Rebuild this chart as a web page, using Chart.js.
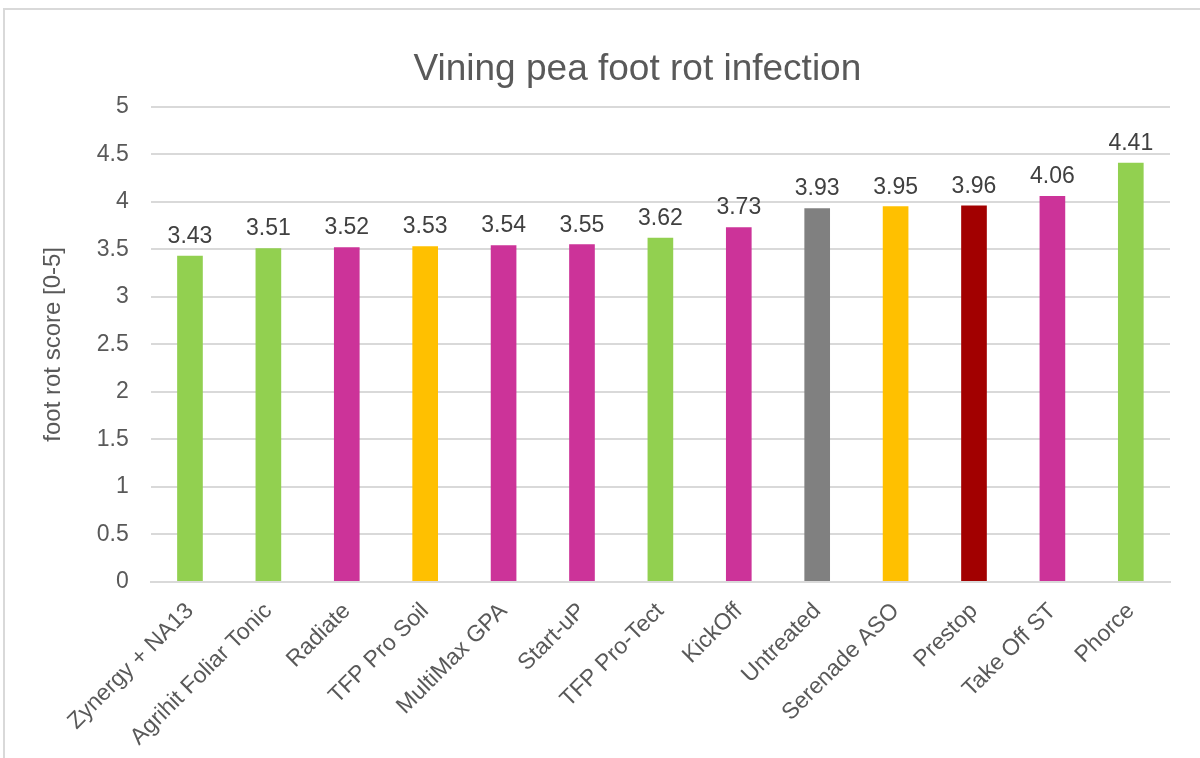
<!DOCTYPE html>
<html>
<head>
<meta charset="utf-8">
<script src="https://cdn.jsdelivr.net/npm/chart.js@4.4.1/dist/chart.umd.min.js"></script>
<style>
    html, body { margin: 0; padding: 0; background: #fff; overflow: hidden; }
    #wrap { position: relative; width: 1200px; height: 758px; }
    #frame { position: absolute; left: 3px; top: 8px; width: 1230px; height: 800px; border: 2px solid #d9d9d9; box-sizing: border-box; }
    canvas { position: absolute; left: 0; top: 0; }
</style>
</head>
<body>
<div id="wrap">
    <div id="frame"></div>
    <canvas id="chart" width="1200" height="758"></canvas>
</div>
<script>
// foot rot score per treatment, sorted low → high
const treatments = ['Zynergy + NA13', 'Agrihit Foliar Tonic', 'Radiate', 'TFP Pro Soil', 'MultiMax GPA',
    'Start-uP', 'TFP Pro-Tect', 'KickOff', 'Untreated', 'Serenade ASO', 'Prestop', 'Take Off ST', 'Phorce'];
const scores = [3.43, 3.51, 3.52, 3.53, 3.54, 3.55, 3.62, 3.73, 3.93, 3.95, 3.96, 4.06, 4.41];
const barColors = ['#92D050', '#92D050', '#CC3399', '#FFC000', '#CC3399', '#CC3399', '#92D050',
    '#CC3399', '#808080', '#FFC000', '#A20000', '#CC3399', '#92D050'];
const yTicks = [0, 0.5, 1, 1.5, 2, 2.5, 3, 3.5, 4, 4.5, 5];
const chartTitle = 'Vining pea foot rot infection';

const font = '"Liberation Sans", Arial, sans-serif';

// value labels above each bar + the title (centred on the full Excel frame, which runs off the right edge)
const overlay = {
    id: 'overlay',
    afterDatasetsDraw(chart) {
        const ctx = chart.ctx;
        const meta = chart.getDatasetMeta(0);
        const area = chart.chartArea;
        ctx.save();
        ctx.font = '23px ' + font;
        ctx.fillStyle = '#404040';
        ctx.textAlign = 'center';
        ctx.textBaseline = 'bottom';
        meta.data.forEach((bar, i) => {
            ctx.fillText(scores[i].toFixed(2), bar.x, bar.y - 8);
        });

        ctx.font = '37px ' + font;
        ctx.fillStyle = '#595959';
        ctx.textBaseline = 'middle';
        ctx.fillText(chartTitle, (area.left + area.right) / 2 - 23, area.top - 37);
        ctx.restore();
    }
};

new Chart(document.getElementById('chart'), {
    type: 'bar',
    data: {
        labels: treatments,
        datasets: [{
            data: scores,
            backgroundColor: barColors,
            barThickness: 25,
        }],
    },
    options: {
        responsive: false,
        animation: false,
        layout: { padding: { left: 39, right: 30, top: 107, bottom: -9 } },
        plugins: {
            legend: { display: false },
            tooltip: { enabled: false },
            title: { display: false },
        },
        scales: {
            x: {
                grid: { display: false, drawTicks: false },
                border: { color: '#d9d9d9', width: 2 },
                ticks: {
                    color: '#595959',
                    font: { family: font, size: 23 },
                    maxRotation: 45,
                    minRotation: 45,
                    padding: 16,
                    autoSkip: false,
                },
            },
            y: {
                min: 0,
                max: 5,
                afterBuildTicks: axis => { axis.ticks = yTicks.map(v => ({ value: v })); },
                grid: { color: '#d9d9d9', lineWidth: 2, drawTicks: false },
                border: { display: false },
                ticks: {
                    color: '#595959',
                    font: { family: font, size: 23 },
                    padding: 22,
                    callback: v => String(v),
                },
                title: {
                    display: true,
                    text: 'foot rot score [0-5]',
                    color: '#595959',
                    font: { family: font, size: 24 },
                    padding: { top: 0, bottom: 7 },
                },
            },
        },
    },
    plugins: [overlay],
});
</script>
</body>
</html>
